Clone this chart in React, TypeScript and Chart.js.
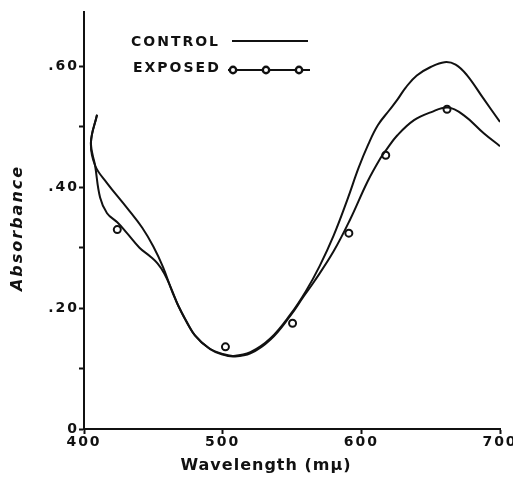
import { useEffect, useRef } from "react";
import { Chart, registerables } from "chart.js";

Chart.register(...registerables);

// Control spectrum (smooth curve)
const controlWavelength = [409.4, 405, 408, 416.6, 431, 442, 450, 457, 464, 471, 480, 490, 500, 508, 520, 534.5, 549, 560, 570, 580, 590, 598, 605, 612, 620, 626, 632, 640, 650, 660, 668, 676, 688, 700];
const controlAbsorbance = [0.52, 0.474, 0.436, 0.407, 0.366, 0.333, 0.302, 0.268, 0.225, 0.19, 0.155, 0.134, 0.124, 0.121, 0.127, 0.15, 0.19, 0.228, 0.27, 0.32, 0.38, 0.432, 0.471, 0.503, 0.527, 0.545, 0.565, 0.585, 0.599, 0.607, 0.603, 0.586, 0.547, 0.508];

// Exposed spectrum (smooth curve)
const exposedWavelength = [409.4, 405, 408, 411.6, 416.6, 424, 431, 440, 448, 453, 458, 463, 468, 474, 480, 491, 500, 508, 520, 534.5, 549, 558, 566, 580, 592, 604.6, 614, 618, 626, 638, 650, 662.5, 674, 688.5, 700];
const exposedAbsorbance = [0.52, 0.474, 0.436, 0.383, 0.357, 0.342, 0.324, 0.3, 0.285, 0.274, 0.257, 0.232, 0.204, 0.178, 0.155, 0.132, 0.123, 0.12, 0.125, 0.148, 0.188, 0.218, 0.244, 0.294, 0.347, 0.41, 0.449, 0.462, 0.486, 0.511, 0.524, 0.532, 0.519, 0.489, 0.468];

// Exposed sample readings
const measuredWavelength = [424, 502, 550.4, 591, 617.6, 661.8];
const measuredAbsorbance = [0.33, 0.136, 0.175, 0.324, 0.453, 0.529];

// Axis labelling
const xTickValues = [400, 500, 600, 700];
const yTickValues = [0, 0.2, 0.4, 0.6];
const yTickLabels = ["0", ".20", ".40", ".60"];

const FONT = "DejaVu Sans";

const toPoints = (xs: number[], ys: number[]) => xs.map((x, i) => ({ x, y: ys[i] }));

export default function App() {
  const ref = useRef<HTMLCanvasElement>(null);

  useEffect(() => {
    const canvas = ref.current;
    if (!canvas) return;

    const tickSpacing = {
      id: "tickSpacing",
      beforeUpdate(c: Chart) {
        (c.ctx as any).letterSpacing = "2px";
      },
      beforeDraw(c: Chart) {
        (c.ctx as any).letterSpacing = "2px";
      },
    };

    const annotations = {
      id: "annotations",
      afterDraw(c: Chart) {
        const ctx = c.ctx as any;
        ctx.save();
        ctx.fillStyle = "#111";
        ctx.strokeStyle = "#111";

        // Legend
        ctx.font = `bold 14px "${FONT}"`;
        ctx.letterSpacing = "2px";
        ctx.textAlign = "left";
        ctx.textBaseline = "middle";
        ctx.fillText("CONTROL", 131, 42);
        ctx.fillText("EXPOSED", 133, 68);
        ctx.lineWidth = 2;
        ctx.beginPath();
        ctx.moveTo(232, 41);
        ctx.lineTo(308, 41);
        ctx.stroke();
        ctx.beginPath();
        ctx.moveTo(228, 70);
        ctx.lineTo(310, 70);
        ctx.stroke();
        for (const cx of [233, 266, 299]) {
          ctx.beginPath();
          ctx.arc(cx, 70, 3.2, 0, Math.PI * 2);
          ctx.fillStyle = "#fff";
          ctx.fill();
          ctx.lineWidth = 2.4;
          ctx.stroke();
        }
        ctx.fillStyle = "#111";

        // Axis titles
        ctx.font = `bold 16px "${FONT}"`;
        ctx.letterSpacing = "1px";
        ctx.textAlign = "center";
        ctx.fillText("Wavelength (m\u03bc)", 266, 466);

        ctx.font = `italic bold 16px "${FONT}"`;
        ctx.letterSpacing = "2px";
        ctx.translate(18, 228);
        ctx.rotate(-Math.PI / 2);
        ctx.fillText("Absorbance", 0, 0);
        ctx.restore();
      },
    };

    const tickFont = { family: FONT, size: 14, weight: "bold" as const };

    const chart = new Chart(canvas, {
      type: "line",
      data: {
        datasets: [
          {
            label: "CONTROL",
            data: toPoints(controlWavelength, controlAbsorbance),
            borderColor: "#111",
            borderWidth: 2,
            pointRadius: 0,
            tension: 0.4,
            fill: false,
          },
          {
            label: "EXPOSED",
            data: toPoints(exposedWavelength, exposedAbsorbance),
            borderColor: "#111",
            borderWidth: 2,
            pointRadius: 0,
            tension: 0.4,
            fill: false,
          },
          {
            label: "EXPOSED readings",
            data: toPoints(measuredWavelength, measuredAbsorbance),
            showLine: false,
            pointRadius: 3.5,
            pointBorderWidth: 2,
            pointBorderColor: "#111",
            pointBackgroundColor: "#fff",
          },
        ],
      },
      options: {
        responsive: false,
        animation: false,
        events: [],
        layout: { padding: { top: 12, right: 13, left: 0, bottom: 0 } },
        plugins: {
          legend: { display: false },
          tooltip: { enabled: false },
        },
        scales: {
          x: {
            type: "linear",
            min: 400,
            max: 700,
            border: { display: true, color: "#111", width: 2 },
            grid: { drawOnChartArea: false, color: "#111", tickLength: 5, tickWidth: 2 },
            afterBuildTicks(s: any) {
              s.ticks = xTickValues.map((value) => ({ value }));
            },
            ticks: {
              color: "#111",
              font: tickFont,
              padding: 0,
              maxRotation: 0,
              autoSkip: false,
            },
            afterFit(s: any) {
              s.height = 50;
              s.paddingLeft = 0;
              s.paddingRight = 0;
            },
          },
          y: {
            type: "linear",
            min: 0,
            max: 0.69,
            border: { display: true, color: "#111", width: 2 },
            grid: { drawOnChartArea: false, color: "#111", tickLength: 5, tickWidth: 2 },
            ticks: {
              stepSize: 0.1,
              includeBounds: false,
              color: "#111",
              font: tickFont,
              padding: 0,
              autoSkip: false,
              callback(value: any) {
                const i = yTickValues.findIndex((v) => Math.abs(v - Number(value)) < 1e-6);
                return i >= 0 ? yTickLabels[i] : "";
              },
            },
            afterFit(s: any) {
              s.width = 84;
              s.paddingTop = 0;
              s.paddingBottom = 0;
            },
          },
        },
      },
      plugins: [tickSpacing, annotations],
    });

    return () => chart.destroy();
  }, []);

  return (
    <div style={{ position: "absolute", left: 0, top: 0, width: 513, height: 479, background: "#fff" }}>
      <canvas ref={ref} width={513} height={479} style={{ display: "block" }} />
    </div>
  );
}
